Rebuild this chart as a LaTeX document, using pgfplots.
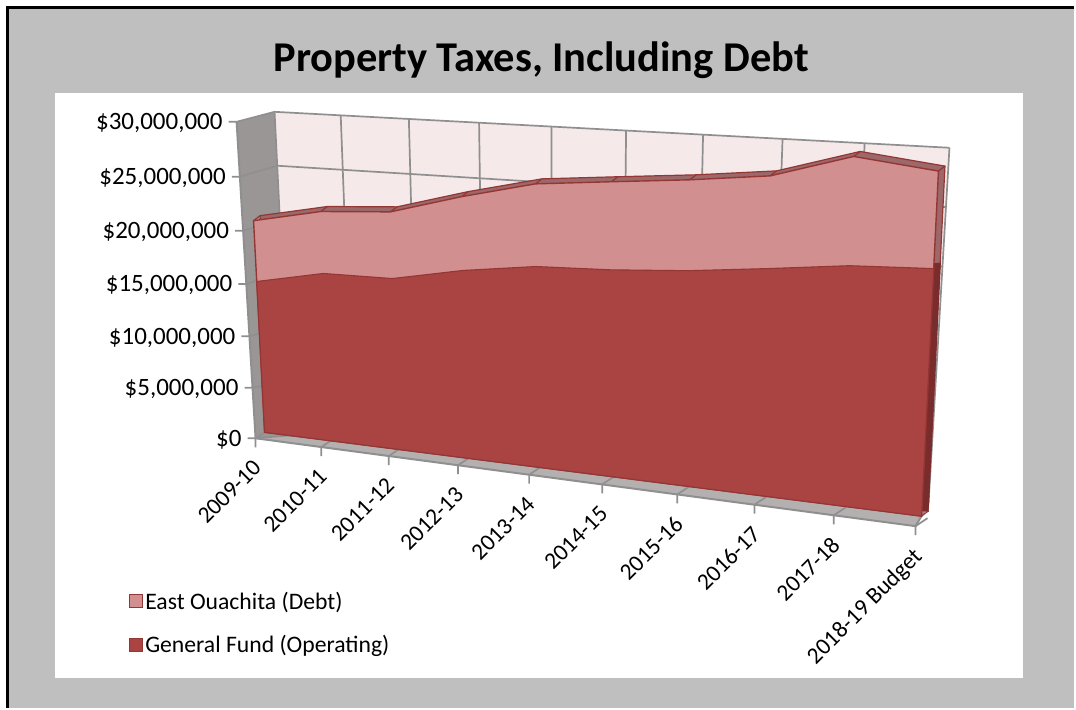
\documentclass[border=0pt]{standalone}
\usepackage{fontspec}
\setmainfont{Carlito}
\usepackage{pgfplots}
\usepackage{pgfplotstable}
\pgfplotsset{compat=1.18}

\definecolor{debtc}{HTML}{D18F8F}
\definecolor{genc}{HTML}{A94442}
\definecolor{edgec}{HTML}{943634}
\definecolor{bandc}{HTML}{9C686A}
\definecolor{sidec}{HTML}{7A2C2C}
\definecolor{wallc}{HTML}{F5E9E9}
\definecolor{swallc}{HTML}{9B9696}
\definecolor{floorc}{HTML}{B5B0B0}
\definecolor{gridc}{HTML}{8F8F8F}
\definecolor{bgc}{HTML}{BFBFBF}

% the last two rows close the polygon along the base
\pgfplotstableread{
idx general debt
0 15000000 6050000
1 16270000 6030000
2 16250000 6350000
3 17470000 6880000
4 18270000 7530000
5 18400000 7850000
6 18750000 7920000
7 19350000 7900000
8 20000000 9100000
9 20160000 7940000
9 0 0
0 0 0
}\taxes

% perspective of the chart: t = category/9, v = value in millions
\pgfplotsset{/pgf/declare function={
  fa(\t)=\t/(1.13-0.13*\t);
  fb(\t)=\t/(1.15-0.15*\t);
  areax(\t,\v)=265-0.524*\v+fa(\t)*(658+1.129*\v);
  areay(\t,\v)=433-10.07*\v+fa(\t)*(84+2.23*(0-\v));
  backx(\t,\v)=291-0.5333*\v+fb(\t)*(639+1.2333*\v);
  backy(\t,\v)=436-10.8*\v+fb(\t)*(69-1.1*\v);
  floorx(\t)=256+661*fa(\t);
  floory(\t)=439+88*fa(\t);
  gv(\v)=(\v/30)/(1.05-0.05*\v/30);
  edgex(\v)=256-19*gv(\v);
  edgey(\v)=439-317*gv(\v);
}}

\newcommand{\xl}[2]{%
  \draw[gridc,line width=1.7pt] (axis cs:{floorx(#1/9)},{floory(#1/9)+9}) -- (axis cs:{floorx(#1/9)},{floory(#1/9)}) -- ++(axis direction cs:12,-8);%
  \node[rotate=45,anchor=north east,inner sep=0pt,font=\fontsize{23.5}{28}\selectfont] at (axis cs:{floorx(#1/9)-4},{floory(#1/9)+20}) {#2};%
}
\newcommand{\yl}[2]{%
  \draw[gridc,line width=1.7pt] (axis cs:{edgex(#1)-8},{edgey(#1)}) -- (axis cs:{edgex(#1)},{edgey(#1)}) -- (axis cs:{backx(0,#1)},{backy(0,#1)}) -- (axis cs:{backx(1,#1)},{backy(1,#1)});%
  \node[anchor=east,inner sep=0pt,font=\fontsize{25}{28}\selectfont] at (axis cs:{edgex(#1)-14},{edgey(#1)+1.5}) {#2};%
}
\newcommand{\vl}[1]{%
  \draw[gridc,line width=1.7pt] (axis cs:{backx(#1/9,0)},{backy(#1/9,0)}) -- (axis cs:{backx(#1/9,30)},{backy(#1/9,30)});%
}

\begin{document}
\begin{tikzpicture}
\begin{axis}[
  width=1076pt, height=709pt, scale only axis,
  xmin=0, xmax=1076, ymin=0, ymax=709, y dir=reverse,
  hide axis, clip=false,
  legend cell align=left,
  legend style={at={(axis cs:129,624)}, anchor=west, draw=none, fill=none,
    row sep=21pt, font=\fontsize{23.7}{28}\selectfont, inner sep=0pt,
    /tikz/every even column/.append style={column sep=7pt}},
  legend image code/.code={\draw[#1,line width=1.3pt] (0pt,-6.5pt) rectangle (13pt,6.5pt);},
]
% page
\fill[white] (axis cs:0,0) rectangle (axis cs:1076,709);
\fill[bgc] (axis cs:7,7) rectangle (axis cs:1076,709);
\draw[black,line width=3.5pt] (axis cs:7.5,709) -- (axis cs:7.5,7.5) -- (axis cs:1076,7.5);
\fill[white] (axis cs:55,93) rectangle (axis cs:1025,679);
\node[font=\fontsize{42.5}{48}\selectfont\bfseries] at (axis cs:542,60) {Property Taxes, Including Debt};

% walls and floor
\fill[wallc] (axis cs:291,436) -- (axis cs:275,112) -- (axis cs:951,148) -- (axis cs:930,505) -- cycle;
\fill[swallc] (axis cs:237,122) -- (axis cs:275,112) -- (axis cs:291,436) -- (axis cs:256,439) -- cycle;
\fill[floorc] (axis cs:256,439) -- (axis cs:291,436) -- (axis cs:930,505) -- (axis cs:917,527) -- cycle;
\foreach \k in {0,...,9} {\edef\tmp{\noexpand\vl{\k}}\tmp}
\yl{0}{\$0}
\yl{5}{\$5,000,000}
\yl{10}{\$10,000,000}
\yl{15}{\$15,000,000}
\yl{20}{\$20,000,000}
\yl{25}{\$25,000,000}
\yl{30}{\$30,000,000}
\draw[gridc,line width=2pt] (axis cs:237,122) -- (axis cs:256,439) -- (axis cs:917,527) -- (axis cs:930,505);
\xl{0}{2009-10}
\xl{1}{2010-11}
\xl{2}{2011-12}
\xl{3}{2012-13}
\xl{4}{2013-14}
\xl{5}{2014-15}
\xl{6}{2015-16}
\xl{7}{2016-17}
\xl{8}{2017-18}
\xl{9}{2018-19 Budget}

% rear of the areas: top band and right side
\addplot[fill=bandc, draw=edgec, line width=1.2pt, forget plot] table[
  x expr={areax(\thisrow{idx}/9,(\thisrow{general}+\thisrow{debt})/1000000)+6.5},
  y expr={areay(\thisrow{idx}/9,(\thisrow{general}+\thisrow{debt})/1000000)-5}] {\taxes} -- cycle;
\addplot[fill=sidec, draw=sidec, line width=1.2pt, forget plot] table[
  x expr={areax(\thisrow{idx}/9,\thisrow{general}/1000000)+6.5},
  y expr={areay(\thisrow{idx}/9,\thisrow{general}/1000000)-5}] {\taxes} -- cycle;
\addplot[edgec, line width=1.2pt, forget plot, quiver={u=6.5,v=-5}] table[
  x expr={areax(\thisrow{idx}/9,(\thisrow{general}+\thisrow{debt})/1000000)},
  y expr={areay(\thisrow{idx}/9,(\thisrow{general}+\thisrow{debt})/1000000)}] {\taxes};

% front faces
\addplot[fill=debtc, draw=edgec, line width=1.4pt] table[
  x expr={areax(\thisrow{idx}/9,(\thisrow{general}+\thisrow{debt})/1000000)},
  y expr={areay(\thisrow{idx}/9,(\thisrow{general}+\thisrow{debt})/1000000)}] {\taxes} -- cycle;
\addlegendentry{East Ouachita (Debt)}
\addplot[fill=genc, draw=edgec, line width=1.1pt] table[
  x expr={areax(\thisrow{idx}/9,\thisrow{general}/1000000)},
  y expr={areay(\thisrow{idx}/9,\thisrow{general}/1000000)}] {\taxes} -- cycle;
\addlegendentry{General Fund (Operating)}
\end{axis}
\end{tikzpicture}
\end{document}
